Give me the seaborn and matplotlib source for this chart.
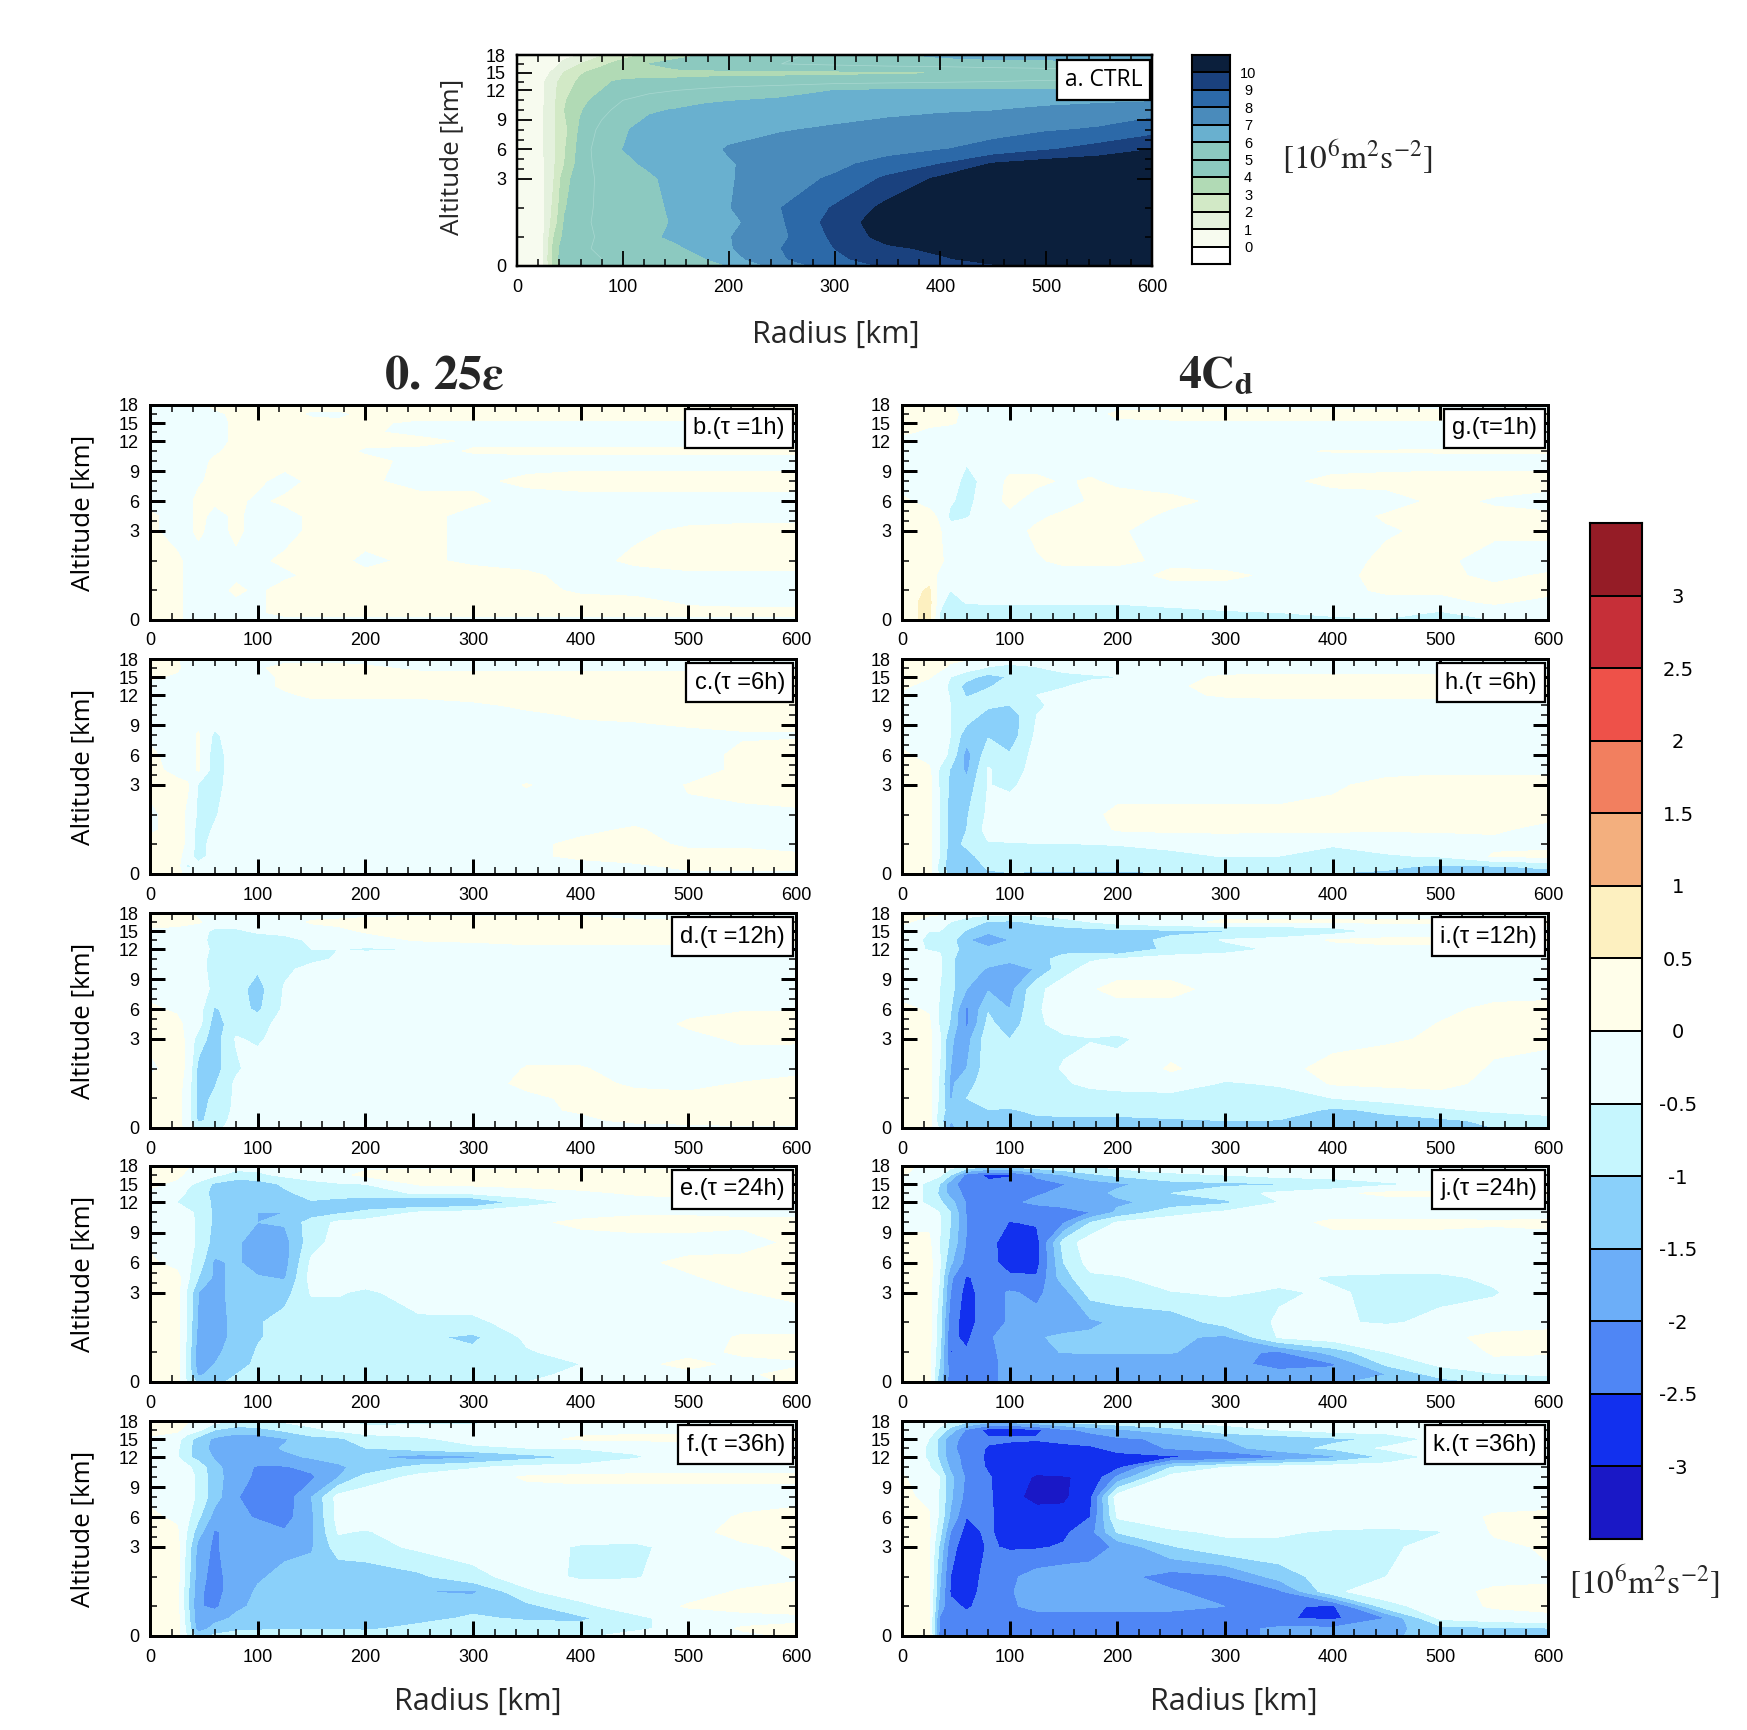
import numpy as np
import matplotlib
matplotlib.use('Agg')
import matplotlib.pyplot as plt
from matplotlib.colors import ListedColormap
from matplotlib.ticker import FixedLocator
import seaborn as sns

# grid the fields were read on
radius_km = [0, 25, 35, 45, 60, 80, 100, 125, 150, 175, 200, 250, 300, 350, 400, 450, 500, 550, 600]
altitude_km = [0, .25, .6, 1, 1.5, 2, 3, 4.5, 6, 8, 10, 11, 12, 13.5, 15, 16.5, 18]

ctrl_levels = [0, 1, 2, 3, 4, 5, 6, 7, 8, 9, 10]
diff_levels = [-3, -2.5, -2, -1.5, -1, -.5, 0, .5, 1, 1.5, 2, 2.5, 3]
ctrl_colors = ['#ffffff', '#f7fbef', '#e4f1dd', '#d2e9c6', '#b1dab5', '#8cc9bf', '#8cc9c0',
               '#69b0cf', '#4a8bbb', '#2c69a8', '#1a417e', '#0b1f3c']
diff_colors = ['#1a18c6', '#1230ee', '#4f86f5', '#6caef8', '#8ad0fa', '#c6f6fe', '#eefeff',
               '#fffeea', '#fdf0c0', '#f3af7e', '#f27f5f', '#ee5149', '#c62f38', '#951c26']
diff_labels = ['3', '2.5', '2', '1.5', '1', '0.5', '0', '-0.5', '-1', '-1.5', '-2', '-2.5', '-3']
ctrl_labels = ['10', '9', '8', '7', '6', '5', '4', '3', '2', '1', '0']

# rows go from the surface up, columns follow radius_km
ctrl = [
    [.3,.9,3.4,4.6,4.8,5,5.1,5.2,5.4,5.7,6,7.4,8.5,9.1,9.6,9.9,10.2,10.5,10.6],
    [.3,.9,3.5,4.6,4.8,5,5.1,5.3,5.6,5.9,6.6,7.9,8.8,9.5,9.9,10.3,10.7,11,11],
    [.3,.9,3.4,4.6,4.9,5.1,5.3,5.5,5.8,6.3,6.9,8,9,9.8,10.2,10.8,11,11.2,11.2],
    [.3,.9,3,4.3,4.8,5.1,5.4,5.8,6.2,6.6,6.95,7.8,9.2,10.4,11,11.5,11.5,11.5,11.5],
    [.3,.9,2.5,4.1,4.8,5.2,5.5,5.7,6.1,6.5,6.7,7.9,9.4,10.6,11.5,11.5,11.5,11.5,11.5],
    [.3,.9,2.3,3.9,4.7,5.2,5.5,5.7,6.2,6.6,6.95,8,9.1,10.3,11.2,11.5,11.5,11.5,11.5],
    [.3,.9,2,3.6,4.6,5.2,5.6,5.9,6.2,6.6,6.9,7.7,8.1,9.2,10.2,11,11.2,11.2,11.2],
    [.3,.9,1.9,3,4.5,5.4,5.85,6.1,6.4,6.7,6.95,7.3,7.8,8.3,9,10.1,10.5,10.7,10.7],
    [.3,1,1.9,2.9,4.4,5.6,6,6.3,6.5,6.8,7.05,7.3,7.5,7.7,7.95,8.3,8.9,9.4,10],
    [.3,1,1.9,2.7,4.2,5.3,5.9,6.3,6.5,6.7,6.8,6.95,7.1,7.3,7.5,7.7,7.9,8.1,8.6],
    [.3,1,1.8,3,3.9,4.7,5.4,5.9,6.05,6.3,6.4,6.6,6.7,6.8,6.9,6.97,7.2,7.4,7.6],
    [.3,.9,1.8,2.9,3.7,4.4,5,5.4,5.6,5.8,5.95,6.1,6.3,6.4,6.5,6.6,6.7,6.8,6.9],
    [.3,.9,1.8,2.7,3.4,4,4.5,4.8,5,5.2,5.4,5.7,6,6.1,6.1,6.1,6.1,6.1,6.1],
    [.3,.9,1.7,2.5,3.2,3.9,4.1,4.2,4.2,4.3,4.4,4.5,4.7,4.8,4.9,5,5.1,5.1,5.1],
    [.3,.7,1.2,2.1,2.9,3.4,3.6,3.7,3.7,3.7,3.7,3.7,3.7,3.8,3.9,4.2,4.4,4.5,4.5],
    [.3,.4,.7,1.3,2,2.8,3.4,4,4.4,4.6,4.8,5,5.2,5.4,5.5,5.6,5.6,5.7,5.7],
    [.2,.2,.4,.7,1,1.9,2.6,3.2,3.6,4,4.3,4.8,5.3,5.8,6.2,6.4,6.5,6.5,6.5],
]
eps_1h = [
    [.2,.2,-.2,-.2,-.2,-.2,-.2,-.2,-.2,-.2,-.2,-.2,-.2,-.2,-.2,-.2,-.2,-.2,-.2],
    [.2,.2,-.2,-.2,-.2,-.2,-.1,.2,.2,.2,.2,.2,.2,.2,.2,.2,.2,.2,.2],
    [.2,.2,-.2,-.2,-.2,-.1,-.1,.2,.2,.2,.2,.2,.2,.2,.2,.2,-.1,-.2,-.2],
    [.2,.2,-.2,-.2,-.2,.1,-.1,.2,.2,.2,.2,.2,.2,.2,-.1,-.2,-.2,-.2,-.2],
    [.2,.2,-.2,-.2,-.2,-.1,-.1,-.1,.1,.1,.1,.2,.2,.1,-.2,-.2,-.1,-.1,-.1],
    [.2,.1,-.1,-.2,-.2,-.1,-.1,.1,.1,.1,-.1,.1,-.1,-.2,-.2,.1,.2,.2,.2],
    [.1,-.2,-.1,.1,-.2,.1,-.2,-.2,.1,.2,.2,.2,-.2,-.2,-.2,-.1,.1,.2,.2],
    [.1,-.2,-.2,.2,-.2,.1,-.2,-.2,.1,.2,.2,.2,-.2,-.2,-.2,-.2,-.2,-.2,-.2],
    [-.2,-.2,-.2,.2,.1,.1,-.1,.1,.2,.2,.2,.2,.1,-.2,-.2,-.2,-.2,-.2,-.2],
    [-.2,-.2,-.2,-.1,.2,.2,.1,-.2,.1,.1,.1,-.2,-.1,.1,.2,.2,.2,.2,.2],
    [-.2,-.2,-.2,-.2,.1,.2,.2,.2,.2,.2,.2,-.2,-.2,-.2,-.2,-.2,-.2,-.2,-.2],
    [-.2,-.2,-.2,-.2,-.1,.2,.2,.2,.2,.2,-.1,-.2,.05,.1,.1,.1,.1,.1,.1],
    [-.2,-.2,-.2,-.2,-.2,.1,.2,.2,.2,.2,.2,.2,-.1,-.2,-.2,-.2,-.2,-.2,-.2],
    [-.2,-.2,-.2,-.2,-.2,.1,.2,.2,.2,.2,.1,-.2,-.2,-.2,-.2,-.2,-.2,-.2,-.2],
    [-.2,-.2,-.2,-.2,-.2,.1,.2,.2,.2,.1,.1,-.1,-.1,-.1,-.1,-.1,-.1,-.1,-.1],
    [-.2,-.2,-.2,-.2,-.1,.1,.2,.2,-.1,-.1,.1,.2,.2,.2,.2,.2,.2,.2,.2],
    [-.2,-.2,-.2,-.1,.1,.2,.2,.2,.2,.2,.2,.2,.2,.2,.2,.2,.2,.2,.2],
]
eps_6h = [
    [.2,.2,-.2,-.2,-.2,-.2,-.2,-.2,-.2,-.2,-.2,-.2,-.2,-.2,-.2,-.1,-.1,-.1,-.1],
    [.2,.2,-.6,-.3,-.2,-.2,-.2,-.2,-.2,-.2,-.2,-.2,-.2,-.2,-.2,-.1,.1,.1,.1],
    [.2,.2,-.3,-.7,-.3,-.2,-.2,-.2,-.2,-.2,-.2,-.2,-.2,-.1,.1,.2,.2,.1,.05],
    [.2,.2,-.1,-.7,-.3,-.2,-.2,-.2,-.2,-.2,-.2,-.1,-.1,-.1,.1,.2,-.1,-.05,-.1],
    [-.1,.2,-.1,-.7,-.45,-.2,-.2,-.2,-.2,-.2,-.2,-.2,-.2,-.2,-.1,.05,-.2,-.2,-.1],
    [-.1,.2,-.1,-.6,-.55,-.2,-.2,-.2,-.2,-.2,-.2,-.2,-.2,-.2,-.2,-.2,-.05,-.1,-.05],
    [.1,.2,.05,-.55,-.7,-.2,-.2,-.2,-.2,-.2,-.2,-.2,-.2,.02,-.2,-.2,.02,.15,.15],
    [.2,-.2,-.2,.05,-.75,-.2,-.2,-.2,-.2,-.2,-.2,-.2,-.2,-.2,-.2,-.2,-.2,.1,.2],
    [.1,-.2,-.2,.05,-.75,-.2,-.2,-.2,-.2,-.2,-.2,-.2,-.2,-.2,-.2,-.2,-.2,.1,.2],
    [-.1,-.2,-.2,.05,-.6,-.2,-.2,-.2,-.2,-.2,-.2,-.2,-.2,-.2,-.2,-.2,-.1,-.05,-.05],
    [-.2,-.2,-.2,-.2,-.2,-.2,-.2,-.2,-.2,-.2,-.2,-.2,-.2,-.1,.05,.1,.15,.2,.2],
    [-.2,-.2,-.2,-.2,-.2,-.2,-.2,-.2,-.2,-.2,-.2,-.2,-.1,.1,.2,.2,.2,.2,.2],
    [-.2,-.2,-.2,-.2,-.2,-.2,-.2,-.1,.1,.1,.1,.1,.2,.2,.2,.2,.2,.2,.2],
    [-.2,-.2,-.2,-.2,-.2,-.2,-.2,.1,.2,.2,.2,.2,.2,.2,.2,.2,.2,.2,.2],
    [.1,-.1,-.2,-.2,-.2,-.2,-.2,.1,.2,.2,.2,.2,.2,.2,.2,.2,.2,.2,.2],
    [.2,.1,-.2,-.2,-.2,-.2,-.1,.2,.2,.2,.1,-.1,-.1,-.1,-.1,-.1,-.1,-.1,-.1],
    [.1,.05,-.2,-.2,-.2,-.2,-.2,-.2,-.2,-.2,-.2,-.2,-.2,-.2,-.2,-.2,-.2,-.2,-.2],
]
eps_12h = [
    [.2,.2,-.2,-.7,-.7,-.2,-.2,-.2,-.2,-.2,-.2,-.2,-.2,-.2,-.2,-.2,-.1,-.1,-.1],
    [.2,.2,-.3,-1.1,-.8,-.3,-.2,-.2,-.2,-.2,-.2,-.2,-.2,-.2,-.1,.1,.1,.2,.2],
    [.2,.2,-.3,-1.2,-.8,-.4,-.2,-.2,-.2,-.2,-.2,-.2,-.2,-.1,.05,.2,.2,.2,.1],
    [.2,.2,-.3,-1.2,-.9,-.4,-.2,-.2,-.2,-.2,-.2,-.2,-.2,-.1,.1,.2,.1,.2,.2],
    [.2,.2,-.2,-1.2,-1.05,-.4,-.2,-.2,-.2,-.2,-.2,-.2,-.2,.1,.2,-.1,-.1,.02,.05],
    [-.1,.2,-.1,-1.15,-1.2,-.6,-.2,-.2,-.2,-.2,-.2,-.2,-.2,.02,.02,-.1,-.2,-.2,-.05],
    [.1,.2,-.1,-.75,-1.25,-.45,-.6,-.2,-.2,-.2,-.2,-.2,-.2,-.2,-.2,-.2,-.1,.05,.01],
    [.1,.2,-.2,-.3,-1.25,-.7,-.7,-.3,-.2,-.2,-.2,-.2,-.2,-.2,-.2,-.2,.05,.1,.1],
    [.1,-.1,-.2,-.3,-1.05,-.8,-1.1,-.4,-.2,-.2,-.2,-.2,-.2,-.2,-.2,-.2,-.1,-.02,-.02],
    [-.2,-.2,-.2,-.3,-.6,-.8,-1.2,-.45,-.2,-.2,-.2,-.2,-.2,-.2,-.2,-.2,-.2,-.2,-.2],
    [-.2,-.2,-.2,-.3,-.7,-.8,-.95,-.6,-.35,-.2,-.2,-.2,-.2,-.2,-.2,-.2,-.2,-.2,-.2],
    [-.2,-.2,-.2,-.3,-.7,-.8,-.8,-.8,-.6,-.45,-.3,-.2,-.2,-.2,-.2,-.2,-.2,-.2,-.2],
    [-.2,-.2,-.2,-.3,-.6,-.7,-.7,-.7,-.5,-.5,-.55,-.5,-.3,-.1,-.1,-.1,-.1,-.1,-.1],
    [-.2,-.2,-.2,-.3,-.7,-.7,-.8,-.7,-.4,-.3,-.2,.05,.1,.1,.1,.1,.1,.1,.1],
    [-.1,-.2,-.2,-.3,-.6,-.6,-.4,-.3,-.2,-.1,.05,.2,.2,.2,.2,.2,.2,.2,.2],
    [.2,.2,.1,.05,-.2,-.2,-.2,-.2,.05,.1,.2,.3,.3,.3,.3,.1,.1,.1,.1],
    [.1,.1,.1,-.1,-.2,-.2,-.2,-.2,-.2,-.2,-.2,-.2,-.2,-.2,-.2,-.2,-.2,-.2,-.2],
]
eps_24h = [
    [.2,.2,-.6,-1.1,-1.2,-.8,-.7,-.6,-.6,-.6,-.6,-.6,-.6,-.5,-.3,-.2,-.2,-.1,.05],
    [.2,.2,-.7,-1.6,-1.3,-1,-.8,-.7,-.7,-.7,-.7,-.7,-.7,-.6,-.4,-.2,-.1,-.05,.1],
    [.2,.2,-.7,-1.8,-1.5,-1.2,-.9,-.8,-.8,-.8,-.8,-.8,-.8,-.7,-.5,-.1,.1,-.1,-.05],
    [.2,.2,-.7,-1.8,-1.6,-1.3,-.95,-.8,-.8,-.8,-.8,-.8,-.9,-.55,-.3,-.1,-.1,.05,.1],
    [.2,.2,-.6,-1.7,-1.8,-1.3,-1.05,-.8,-.8,-.8,-.8,-.9,-1.1,-.4,-.2,-.2,-.2,.05,.05],
    [.2,.2,-.6,-1.6,-1.8,-1.3,-1.05,-.8,-.8,-.8,-.9,-.6,-.6,-.3,-.2,-.2,-.2,-.2,-.2],
    [.2,.2,-.6,-1.5,-1.8,-1.2,-1.05,-1.2,-.45,-.45,-.6,-.25,-.2,-.2,-.2,-.2,-.1,-.02,.1],
    [.2,.2,-.4,-1,-1.6,-1.4,-1.45,-1.55,-.3,-.2,-.2,-.2,-.2,-.2,-.2,-.2,-.05,.15,.2],
    [.1,-.2,-.4,-.7,-1.6,-1.4,-1.8,-1.7,-.4,-.2,-.2,-.2,-.2,-.2,-.2,-.1,.1,.15,.1],
    [-.1,-.2,-.3,-.6,-1.2,-1.4,-1.8,-1.7,-.7,-.3,-.2,-.2,-.2,-.2,-.2,-.2,-.2,-.2,.1],
    [-.1,-.2,-.3,-.6,-1.1,-1.4,-1.5,-1.45,-.75,-.4,-.3,-.2,-.2,-.1,.1,.2,.2,.1,.1],
    [-.2,-.3,-.4,-.6,-1.1,-1.4,-1.5,-1.5,-1.3,-1.1,-.9,-.45,-.3,-.2,-.2,-.1,-.1,-.1,-.1],
    [-.2,-.5,-.7,-.7,-1.1,-1.3,-1.4,-1.1,-1.05,-1.2,-1.35,-1.55,-1.55,-.7,-.4,-.2,-.2,-.2,-.2],
    [-.1,-.2,-.6,-.7,-1.2,-1.4,-1.4,-1.1,-.8,-.75,-.7,-.45,-.4,-.3,-.1,.05,.2,.2,.2],
    [.1,-.1,-.4,-.6,-1.1,-1.3,-1.3,-.9,-.7,-.55,-.5,.05,.1,.2,.2,.2,.2,.2,.2],
    [.2,.1,-.1,-.2,-.4,-.7,-.6,-.4,-.2,-.1,.1,.2,.2,.2,.2,.2,.2,.2,.2],
    [.2,.1,.05,-.1,-.2,-.3,-.3,-.2,-.2,-.2,-.1,-.1,-.1,-.1,-.1,-.1,-.1,-.1,-.1],
]
eps_36h = [
    [.2,.2,-.6,-1.2,-.9,-.8,-.8,-.7,-.7,-.7,-.8,-.7,-.7,-.7,-.6,-.3,-.2,-.1,.05],
    [.2,.2,-.7,-1.8,-1.3,-1.1,-1.05,-1.05,-1.05,-1.05,-1.05,-.9,-.8,-.8,-.8,-.6,-.3,.05,.1],
    [.2,.2,-.8,-1.9,-1.7,-1.4,-1.2,-1.2,-1.2,-1.2,-1.2,-1.1,-.95,-1.05,-1.1,-.6,-.3,-.2,-.1],
    [.2,.2,-.9,-1.95,-2.1,-1.6,-1.4,-1.3,-1.3,-1.3,-1.3,-1.25,-1.1,-1.15,-.6,-.3,.05,.2,.2],
    [.2,.2,-.9,-1.9,-2.2,-1.7,-1.45,-1.3,-1.3,-1.3,-1.3,-1.5,-1.6,-.55,-.3,-.2,-.2,.05,.1],
    [.2,.2,-.8,-1.8,-2.2,-1.7,-1.55,-1.4,-1.3,-1.35,-1.3,-1.1,-.6,-.35,-.55,-.55,-.2,-.2,-.05],
    [.2,.2,-.7,-1.7,-2.1,-1.65,-1.6,-1.6,-1.55,-.75,-.7,-.4,-.35,-.3,-.55,-.6,-.3,-.05,.05],
    [.1,.1,-.55,-1.3,-2.05,-1.85,-1.9,-1.95,-1.6,-.45,-.55,-.2,-.2,-.2,-.2,-.2,-.1,.1,.1],
    [.1,-.1,-.4,-.9,-1.7,-1.95,-2.02,-2.2,-1.6,-.3,-.2,-.2,-.2,-.2,-.2,-.2,-.2,.05,.2],
    [-.1,-.2,-.3,-.6,-1.3,-1.95,-2.3,-2.3,-1.5,-.3,-.2,-.2,-.2,-.2,-.2,-.2,-.2,-.2,-.2],
    [-.1,-.2,-.3,-.6,-1.3,-1.8,-2.1,-2.3,-2.1,-1.5,-.8,-.35,-.2,.05,.1,.1,.1,.1,.1],
    [-.2,-.3,-.4,-.7,-1.35,-1.8,-2.05,-2.05,-1.85,-1.55,-1.4,-.8,-.55,-.35,-.3,-.2,-.2,-.2,-.2],
    [-.2,-.45,-.9,-1.2,-1.55,-1.7,-1.7,-1.6,-1.45,-1.4,-1.45,-1.75,-1.6,-1.2,-.95,-.55,-.3,-.2,-.2],
    [-.1,-.4,-.9,-1.2,-1.7,-1.8,-1.7,-1.45,-1.3,-1.15,-1,-.75,-.6,-.5,-.45,-.4,-.3,-.2,-.2],
    [-.1,-.3,-.8,-1.2,-1.6,-1.75,-1.75,-1.55,-1.2,-1.1,-.7,-.6,-.3,-.1,.05,.1,.1,.1,.1],
    [.2,.1,-.2,-.4,-1,-1.3,-1.2,-.9,-.6,-.4,-.3,-.2,-.2,-.1,-.1,-.1,-.1,-.1,-.1],
    [.2,.1,.05,-.1,-.3,-.5,-.5,-.4,-.3,-.4,-.7,-.7,-.7,-.3,-.2,-.2,-.2,-.2,-.2],
]
cd_1h = [
    [.2,.7,-.6,-.7,-.7,-.7,-.7,-.7,-.7,-.7,-.7,-.7,-.7,-.65,-.6,-.55,-.55,-.5,-.55],
    [.2,.7,-.5,-.8,-.8,-.7,-.7,-.7,-.7,-.7,-.7,-.6,-.55,-.5,-.4,-.3,-.55,-.2,-.1],
    [.2,.7,-.3,-.8,-.45,-.45,-.45,-.45,-.45,-.45,-.45,-.4,-.3,-.2,-.2,-.2,-.1,.05,-.1],
    [.1,.6,-.2,-.5,-.3,-.2,-.2,-.2,-.2,-.2,-.2,-.2,-.2,-.2,-.2,.1,.05,.1,.1],
    [.1,.2,-.1,-.2,-.2,-.2,-.2,-.2,-.2,-.2,-.2,.1,.1,-.1,-.1,.1,.1,-.1,.05],
    [.1,.2,.1,-.2,-.2,-.2,-.2,-.05,.1,.1,.1,-.1,-.2,-.2,-.2,.1,.1,-.2,-.2],
    [.1,.2,.05,-.35,-.2,-.2,-.2,.1,.2,.2,.05,-.2,-.2,-.2,-.2,-.05,.1,.1,.1],
    [.2,.2,-.1,-.6,-.55,-.2,-.1,-.1,.1,.2,.2,-.1,-.2,-.2,-.2,.05,.1,.1,.1],
    [.1,-.2,-.2,-.45,-.65,-.2,.1,-.2,-.2,.05,.2,.1,-.1,-.2,-.2,-.2,.1,-.05,-.2],
    [-.2,-.2,-.2,-.2,-.7,-.3,.1,.1,-.05,.05,-.1,-.2,-.2,-.1,.1,.15,.2,.2,.2],
    [-.2,-.2,-.2,-.2,-.45,-.2,-.2,-.2,-.2,-.2,-.2,-.2,-.2,-.2,-.2,-.2,-.2,-.2,-.2],
    [-.2,-.2,-.2,-.2,-.2,-.2,-.2,-.2,-.2,-.2,-.2,-.2,-.2,-.05,.02,.02,.05,.05,.05],
    [-.2,-.2,-.2,-.2,-.2,-.2,-.2,-.2,-.2,-.2,-.2,-.2,-.2,-.2,-.2,-.2,-.2,-.2,-.2],
    [.1,-.1,-.2,-.2,-.2,-.2,-.2,-.2,-.2,-.2,-.2,-.2,-.2,-.2,-.2,-.2,-.2,-.2,-.2],
    [.2,.1,.1,.05,-.1,-.2,-.2,-.2,-.2,-.1,-.05,-.05,-.05,-.05,-.05,-.05,-.05,-.05,-.05],
    [.2,.2,.2,.1,-.1,-.2,-.2,-.2,-.2,-.1,.05,.1,.1,.1,.1,.1,.1,.05,.05],
    [.2,.2,.1,.05,-.2,-.2,-.2,-.2,-.2,-.2,-.1,-.1,-.1,-.1,-.1,-.1,-.1,-.1,-.1],
]
cd_6h = [
    [.2,.2,-.6,-1.2,-1.3,-1.1,-1.05,-1.1,-1.1,-1.1,-1.1,-1.05,-1.02,-1.02,-1.02,-1.1,-1.2,-1.2,-1.2],
    [.2,.2,-.7,-1.3,-1.4,-.9,-.8,-.8,-.8,-.8,-.8,-.8,-.75,-.7,-.8,-.9,-1.1,-1.05,-.9],
    [.2,.2,-.5,-1.3,-1.2,-.7,-.7,-.7,-.7,-.7,-.7,-.6,-.48,-.5,-.7,-.55,-.45,.05,.1],
    [.2,.2,-.5,-1.2,-.9,-.55,-.55,-.52,-.52,-.5,-.48,-.4,-.3,-.4,-.45,-.3,-.2,-.1,-.1],
    [.2,.2,-.5,-1.2,-1,-.3,-.2,-.2,-.2,-.2,.05,.1,.1,.1,.1,.05,.05,.05,-.1],
    [.15,.2,-.5,-1.2,-1.05,-.4,-.2,-.2,-.2,-.1,.1,.1,.1,.1,.1,.1,.15,.15,.1],
    [.2,.2,-.55,-1.1,-1.3,-.48,-.6,-.25,-.2,-.2,-.2,-.2,-.2,-.2,-.05,.1,.2,.2,.2],
    [.2,.1,-.55,-1.05,-1.6,-.45,-.75,-.3,-.2,-.2,-.2,-.2,-.2,-.2,-.2,-.1,-.1,-.1,-.1],
    [.1,-.2,-.3,-.6,-1.7,-.7,-.95,-.3,-.2,-.2,-.2,-.2,-.2,-.2,-.2,-.2,-.2,-.2,-.2],
    [-.2,-.2,-.2,-.5,-1.3,-1.05,-1.3,-.4,-.2,-.2,-.2,-.2,-.2,-.2,-.2,-.2,-.2,-.2,-.2],
    [-.2,-.2,-.2,-.5,-.7,-1.2,-1.3,-.5,-.2,-.2,-.2,-.2,-.2,-.2,-.2,-.2,-.2,-.2,-.2],
    [-.2,-.2,-.2,-.5,-.8,-.9,-1,-.6,-.3,-.2,-.2,-.2,-.2,-.2,-.2,-.2,-.2,-.2,-.2],
    [-.1,-.2,-.2,-.55,-1.05,-.85,-.7,-.5,-.3,-.2,-.2,-.1,.05,.1,.1,.1,.1,.1,.1],
    [.1,-.2,-.3,-.6,-1.2,-1.05,-.8,-.7,-.55,-.3,-.2,-.05,.1,.2,.2,.2,.2,.2,.2],
    [.1,.05,-.2,-.5,-.8,-1.2,-.95,-.8,-.7,-.6,-.52,-.1,.05,.1,.1,.1,.1,.1,.1],
    [.2,.1,.1,-.1,-.3,-.55,-.7,-.55,-.3,-.2,-.2,-.2,-.2,-.2,-.2,-.2,-.2,-.2,-.2],
    [.2,.2,.2,.1,.05,-.2,-.2,-.2,-.2,-.2,-.2,-.2,-.2,-.2,-.2,-.2,-.1,-.1,-.1],
]
cd_12h = [
    [.2,.2,-.6,-1.6,-1.3,-1.1,-1.1,-1.1,-1.1,-1.1,-1.1,-1.05,-1.05,-1.05,-1.1,-1.1,-1.1,-1,-.9],
    [.2,.2,-.8,-1.5,-1.2,-1.15,-1.15,-1.1,-1.1,-1.1,-1.1,-1.05,-1,-1.02,-1.15,-1.15,-1.1,-.9,-.7],
    [.2,.2,-.7,-1.3,-1.05,-1.02,-1.05,-.9,-.85,-.85,-.85,-.8,-.75,-.7,-1.1,-.9,-.6,-.4,-.3],
    [.2,.2,-.6,-1.55,-1,-.7,-.7,-.7,-.7,-.7,-.7,-.7,-.7,-.7,-.5,-.3,-.15,-.1,-.1],
    [.2,.2,-.6,-1.6,-1.2,-.7,-.7,-.6,-.55,-.4,-.3,-.2,-.55,-.45,.05,.1,.1,-.1,-.05],
    [.2,.15,-.5,-1.5,-1.5,-.7,-.65,-.6,-.48,-.35,-.3,.05,-.2,-.1,.1,.2,.2,-.05,-.1],
    [.2,.15,-.4,-1.45,-1.7,-.7,-1,-.7,-.55,-.52,-.6,-.2,-.2,-.2,-.1,-.05,.05,.1,.05],
    [.15,.1,-.55,-1.05,-2.1,-.85,-1.3,-.55,-.4,-.25,-.2,-.2,-.2,-.2,-.2,-.2,.02,.1,.1],
    [.1,-.05,-.55,-.95,-2.1,-1.05,-1.5,-.55,-.3,-.2,-.2,-.2,-.2,-.2,-.2,-.2,-.1,.1,.15],
    [-.2,-.2,-.5,-.85,-1.5,-1.55,-1.7,-.6,-.3,-.05,.15,.15,-.2,-.2,-.2,-.2,-.2,-.2,-.2],
    [-.2,-.2,-.4,-.9,-1.3,-1.55,-1.8,-1.45,-.65,-.35,-.2,-.2,-.2,-.2,-.2,-.2,-.2,-.2,-.2],
    [-.2,-.2,-.4,-.9,-1.3,-1.3,-1.35,-1.15,-.85,-.55,-.45,-.3,-.2,-.2,-.2,-.2,-.2,-.2,-.2],
    [-.2,-.55,-.55,-.7,-1.3,-1.3,-1.3,-1.25,-1.15,-1.3,-1.55,-.8,-.7,-.4,-.2,-.1,-.1,-.1,-.1],
    [-.2,-.6,-.6,-.8,-1.4,-2.05,-1.5,-1.3,-1.25,-1.2,-1.2,-.9,-.45,-.3,.05,.1,.1,.1,.1],
    [-.1,-.5,-.5,-.7,-1.05,-1.3,-1.3,-1.3,-1.25,-1.2,-1.15,-1.1,-1.05,-1.02,-.8,-.3,-.2,-.1,-.1],
    [.05,-.1,-.2,-.5,-.7,-1.05,-1.1,-.9,-.7,-.5,-.3,-.1,.05,.05,.05,.05,.05,.05,.05],
    [.1,.05,.05,-.1,-.3,-.3,-.3,-.3,-.2,-.2,-.2,-.2,-.1,-.1,-.1,-.1,-.1,-.1,-.1],
]
cd_24h = [
    [.2,.2,-1.3,-2.3,-2.3,-2.1,-1.9,-1.9,-1.9,-1.9,-1.9,-1.85,-1.8,-1.8,-1.6,-1.3,-1.2,-.9,-.7],
    [.2,.2,-1.2,-2.2,-2.3,-2.1,-1.9,-1.9,-1.9,-1.9,-1.9,-1.9,-1.9,-1.9,-1.85,-1.5,-.8,-.55,-.45],
    [.2,.2,-1,-2.3,-2.4,-2.1,-1.9,-1.9,-1.9,-1.9,-1.9,-1.95,-1.9,-2.1,-2.05,-.9,-.4,-.1,-.2],
    [.2,.2,-.9,-2.52,-2.45,-2.1,-1.85,-1.6,-1.48,-1.45,-1.45,-1.45,-1.9,-2.05,-1.3,-.5,-.3,.05,.05],
    [.2,.2,-.8,-2.4,-2.6,-2.05,-1.85,-1.55,-1.4,-1.4,-1.4,-1.4,-1.6,-.45,-.2,-.15,-.1,.1,.1],
    [.15,.2,-.8,-2.3,-2.7,-2.2,-1.95,-1.85,-1.8,-1.6,-1.4,-1.3,-.8,-.45,-.45,-.55,-.4,-.2,-.1],
    [.2,.2,-.6,-2,-2.7,-2.2,-1.95,-2.1,-1.7,-.8,-.7,-.52,-.45,-.55,-.45,-.6,-.6,-.55,-.1],
    [.2,.2,-.5,-1.9,-2.55,-2.3,-2.4,-2.45,-1.2,-.6,-.55,-.3,-.3,-.4,-.55,-.6,-.6,-.4,-.2],
    [.2,.2,-.45,-1.4,-2.2,-2.3,-2.75,-2.7,-1,-.3,-.2,-.2,-.2,-.2,-.2,-.2,-.2,-.2,-.2],
    [.2,.1,-.5,-1.1,-2.05,-2.3,-2.8,-2.7,-.8,-.2,-.2,-.2,-.2,-.2,-.2,-.2,-.2,-.2,-.2],
    [-.2,-.1,-.45,-1,-2,-2.2,-2.52,-2.45,-2.05,-1,-.45,-.2,-.2,-.2,.1,.1,.1,.05,.1],
    [-.2,-.3,-.5,-1,-2.05,-2.2,-2.3,-2.3,-2.15,-2,-1.4,-.7,-.4,-.3,-.2,-.2,-.2,-.2,-.2],
    [-.2,-.6,-.9,-1.3,-2.05,-2.2,-2.1,-1.9,-1.85,-1.7,-1.6,-1.3,-1.1,-.5,-.2,-.2,-.2,-.2,-.2],
    [-.2,-.6,-1.1,-1.7,-2.15,-2.2,-2.2,-2.05,-1.9,-1.7,-1.4,-1,-.7,-.4,-.1,.1,.1,.1,.1],
    [-.2,-.6,-1,-1.8,-2.3,-2.4,-2.3,-2.2,-2.02,-1.8,-1.6,-1.2,-1.1,-1.05,-.95,-.6,-.4,-.2,-.2],
    [.05,-.3,-.4,-1,-2.2,-2.6,-2.55,-1.9,-1.5,-1.1,-.9,-.6,-.5,-.3,-.2,-.1,-.1,-.1,-.1],
    [.1,-.1,-.2,-.3,-.5,-.8,-.8,-.6,-.5,-.5,-.3,-.2,-.1,-.1,-.1,-.1,-.1,-.1,-.1],
]
cd_36h = [
    [.2,.2,-2.2,-2.3,-2.3,-2.3,-2.3,-2.3,-2.3,-2.3,-2.3,-2.3,-2.2,-1.9,-1.9,-1.6,-1.3,-1.2,-1.2],
    [.2,.1,-2.1,-2.4,-2.4,-2.3,-2.3,-2.3,-2.3,-2.3,-2.3,-2.3,-2.2,-1.9,-1.9,-1.7,-1.2,-1.1,-1.05],
    [.2,.1,-2.05,-2.45,-2.4,-2.3,-2.3,-2.3,-2.3,-2.3,-2.3,-2.3,-2.15,-2.45,-2.6,-2,-.4,-.2,-.1],
    [.2,.1,-1.7,-2.4,-2.55,-2.35,-2.1,-1.8,-1.8,-1.8,-1.8,-1.8,-2,-2.4,-2.6,-.7,-.2,.05,.1],
    [.2,.1,-1.5,-2.55,-2.7,-2.3,-2.05,-1.75,-1.7,-1.7,-1.75,-1.95,-2.2,-2.1,-.6,-.2,-.1,.05,.05],
    [.2,.1,-1.4,-2.5,-2.8,-2.3,-2.1,-1.8,-1.7,-1.7,-1.85,-2.2,-2.05,-1.3,-.7,-.5,-.2,-.1,-.05],
    [.2,.1,-1.1,-2.3,-2.8,-2.45,-2.55,-2.55,-2.45,-2.3,-1.9,-1.05,-.6,-.6,-.65,-.6,-.3,-.1,.05],
    [.2,.1,-.8,-2,-2.7,-2.4,-2.8,-2.8,-2.6,-2.2,-.95,-.55,-.45,-.45,-.55,-.6,-.52,.05,.1],
    [.15,.05,-.6,-1.6,-2.5,-2.4,-2.8,-2.85,-2.8,-2.5,-.45,-.3,-.2,-.2,-.2,-.2,-.2,.05,.1],
    [.1,-.1,-.55,-1.4,-2.2,-2.4,-2.9,-3.1,-3.1,-2.6,-.2,-.2,-.2,-.2,-.2,-.2,-.2,-.2,-.2],
    [.05,-.3,-.5,-1.35,-2.1,-2.45,-2.8,-3.05,-3.02,-2.95,-1.9,-.3,-.2,-.2,-.2,-.2,-.2,-.2,-.1],
    [-.1,-.45,-.9,-1.6,-2.2,-2.55,-2.8,-2.85,-2.85,-2.8,-2.65,-1,-.5,-.3,-.2,-.2,-.2,-.2,-.2],
    [-.2,-.55,-1.1,-1.8,-2.15,-2.6,-2.75,-2.75,-2.75,-2.75,-2.7,-2.6,-2.45,-2.05,-1.6,-.9,-.3,-.2,-.2],
    [-.2,-.55,-1.1,-1.9,-2.2,-2.55,-2.7,-2.75,-2.7,-2.6,-2.3,-1.95,-1.7,-1.2,-.9,-.4,-.2,-.1,-.1],
    [-.2,-.5,-1.1,-1.8,-2.2,-2.4,-2.4,-2.45,-2.3,-2.2,-2.1,-1.9,-1.5,-1.3,-1.1,-.9,-.3,-.2,-.2],
    [-.1,-.3,-.6,-1.2,-2.1,-2.7,-2.8,-2.6,-2.1,-1.9,-1.6,-1.2,-.7,-.5,-.3,-.2,-.2,-.2,-.1],
    [.05,-.2,-.3,-.5,-.8,-1.2,-1.2,-1,-.8,-.6,-.5,-.4,-.3,-.2,-.2,-.2,-.2,-.2,-.2],
]

W, H = 1747, 1730
TICK_FONT = ['Liberation Sans', 'DejaVu Sans']
SANS = ['Open Sans', 'DejaVu Sans']

sns.set_theme(style='ticks')
plt.rcParams['font.family'] = TICK_FONT
plt.rcParams['mathtext.fontset'] = 'stix'

# altitude axis is stretched below 3 km
alt_marks = [0, 3, 6, 9, 12, 15, 18]
alt_pos = [0, .414, .553, .692, .832, .916, 1]


def alt_forward(z):
    return np.interp(z, alt_marks, alt_pos)


def alt_inverse(p):
    return np.interp(p, alt_pos, alt_marks)


def px_axes(fig, left, top, right, bottom):
    return fig.add_axes([left / W, 1 - bottom / H, (right - left) / W, (bottom - top) / H])


def style_axes(ax, spine=3.0, major=15, minor=7):
    pt = 72 / 100
    ax.set_axisbelow(False)
    ax.set_xlim(0, 600)
    ax.set_yscale('function', functions=(alt_forward, alt_inverse))
    ax.set_ylim(0, 18)
    ax.set_xticks(range(0, 601, 100))
    ax.xaxis.set_minor_locator(FixedLocator(range(0, 601, 20)))
    ax.set_yticks(alt_marks, [str(m) for m in alt_marks])
    ax.yaxis.set_minor_locator(FixedLocator([1, 2, 4, 5, 7, 8, 10, 11, 13.5, 16.5]))
    ax.tick_params(which='major', direction='in', top=True, right=True, length=major * pt,
                   width=spine * pt, labelsize=13, color='black', labelcolor='black')
    ax.tick_params(axis='x', which='major', pad=9)
    ax.tick_params(axis='y', which='major', pad=8)
    ax.tick_params(which='minor', direction='in', top=True, right=True, length=minor * pt,
                   width=1.5 * pt, color='black')
    for s in ax.spines.values():
        s.set_linewidth(spine * pt)
        s.set_color('black')
        s.set_zorder(5)


def draw_field(ax, field, levels, colors):
    ax.contourf(radius_km, altitude_km, np.array(field), levels=levels, colors=colors, extend='both')


def tag(ax, label, size=17, family=None, pad=.35, x_off=8, y_off=9):
    ax.annotate(label, xy=(1, 1), xycoords='axes fraction', xytext=(-x_off, -y_off),
                textcoords='offset points', ha='right', va='top', fontsize=size, color='black',
                family=family or TICK_FONT, zorder=6,
                bbox=dict(boxstyle='square,pad=%g' % pad, fc='white', ec='black', lw=1.6))


def color_strip(fig, box, colors, labels, label_size, pad, family):
    cax = px_axes(fig, *box)
    rows = np.arange(len(colors))[::-1].reshape(-1, 1)
    sns.heatmap(rows, cmap=ListedColormap(colors), cbar=False, linewidths=1.2, linecolor='black',
                xticklabels=False, yticklabels=False, ax=cax)
    for s in cax.spines.values():
        s.set_visible(True)
        s.set_linewidth(1.5)
        s.set_color('black')
    cax.yaxis.tick_right()
    cax.set_yticks(np.arange(1, len(colors)), labels, rotation=0, ha='center', family=family)
    cax.tick_params(axis='y', length=0, pad=pad, labelsize=label_size, labelcolor='black')
    return cax


fig = plt.figure(figsize=(W / 100, H / 100), dpi=100)
fig.patch.set_facecolor('white')

# control run on top
ax_top = px_axes(fig, 517, 55, 1152, 266)
draw_field(ax_top, ctrl, ctrl_levels, ctrl_colors)
ax_top.contour(radius_km, altitude_km, np.array(ctrl), levels=[5], colors='#a9d8d0', linewidths=.5)
style_axes(ax_top, spine=2.5)
ax_top.tick_params(which='major', width=1.3)
tag(ax_top, 'a. CTRL', size=16.5, family=SANS, pad=.35, x_off=7, y_off=9.5)
color_strip(fig, (1192, 55, 1230, 264), ctrl_colors, ctrl_labels, 10.5, 13, TICK_FONT)

left_panels = [('b.(τ =1h)', eps_1h), ('c.(τ =6h)', eps_6h), ('d.(τ =12h)', eps_12h),
               ('e.(τ =24h)', eps_24h), ('f.(τ =36h)', eps_36h)]
right_panels = [('g.(τ=1h)', cd_1h), ('h.(τ =6h)', cd_6h), ('i.(τ =12h)', cd_12h),
                ('j.(τ =24h)', cd_24h), ('k.(τ =36h)', cd_36h)]
row_tops = [405, 659, 913, 1166, 1421]
row_bottoms = [620, 874, 1128, 1382, 1636]

for col, (x0, x1, panels) in enumerate([(150, 796, left_panels), (902, 1548, right_panels)]):
    for (label, field), y0, y1 in zip(panels, row_tops, row_bottoms):
        ax = px_axes(fig, x0, y0, x1, y1)
        draw_field(ax, field, diff_levels, diff_colors)
        style_axes(ax)
        tag(ax, label)
        if col == 0:
            fig.text(83 / W, 1 - (y0 + y1) / 2 / H, 'Altitude [km]', rotation=90, ha='center', va='center',
                     fontsize=18.7, family=SANS, color='black')

color_strip(fig, (1590, 523, 1642, 1539), diff_colors, diff_labels, 14, 26, ['DejaVu Sans'])

fig.text(452 / W, 1 - 157 / H, 'Altitude [km]', rotation=90, ha='center', va='center', fontsize=18.7, family=SANS)
fig.text(836 / W, 1 - 335 / H, 'Radius [km]', ha='center', va='center', fontsize=22, family=SANS)
fig.text(478 / W, 1 - 1702 / H, 'Radius [km]', ha='center', va='center', fontsize=22, family=SANS)
fig.text(1234 / W, 1 - 1702 / H, 'Radius [km]', ha='center', va='center', fontsize=22, family=SANS)

fig.text(444 / W, 1 - 377 / H, r'$\mathbf{0.\,25\varepsilon}$', ha='center', va='center', fontsize=35)
fig.text(1216 / W, 1 - 376 / H, r'$\mathbf{4C_d}$', ha='center', va='center', fontsize=33)

unit = r'$[10^6\mathrm{m}^2\mathrm{s}^{-2}]$'
fig.text(1357 / W, 1 - 157 / H, unit, ha='center', va='center', fontsize=24)
fig.text(1644 / W, 1 - 1582 / H, unit, ha='center', va='center', fontsize=24)

fig.savefig('out.png', dpi=100)
